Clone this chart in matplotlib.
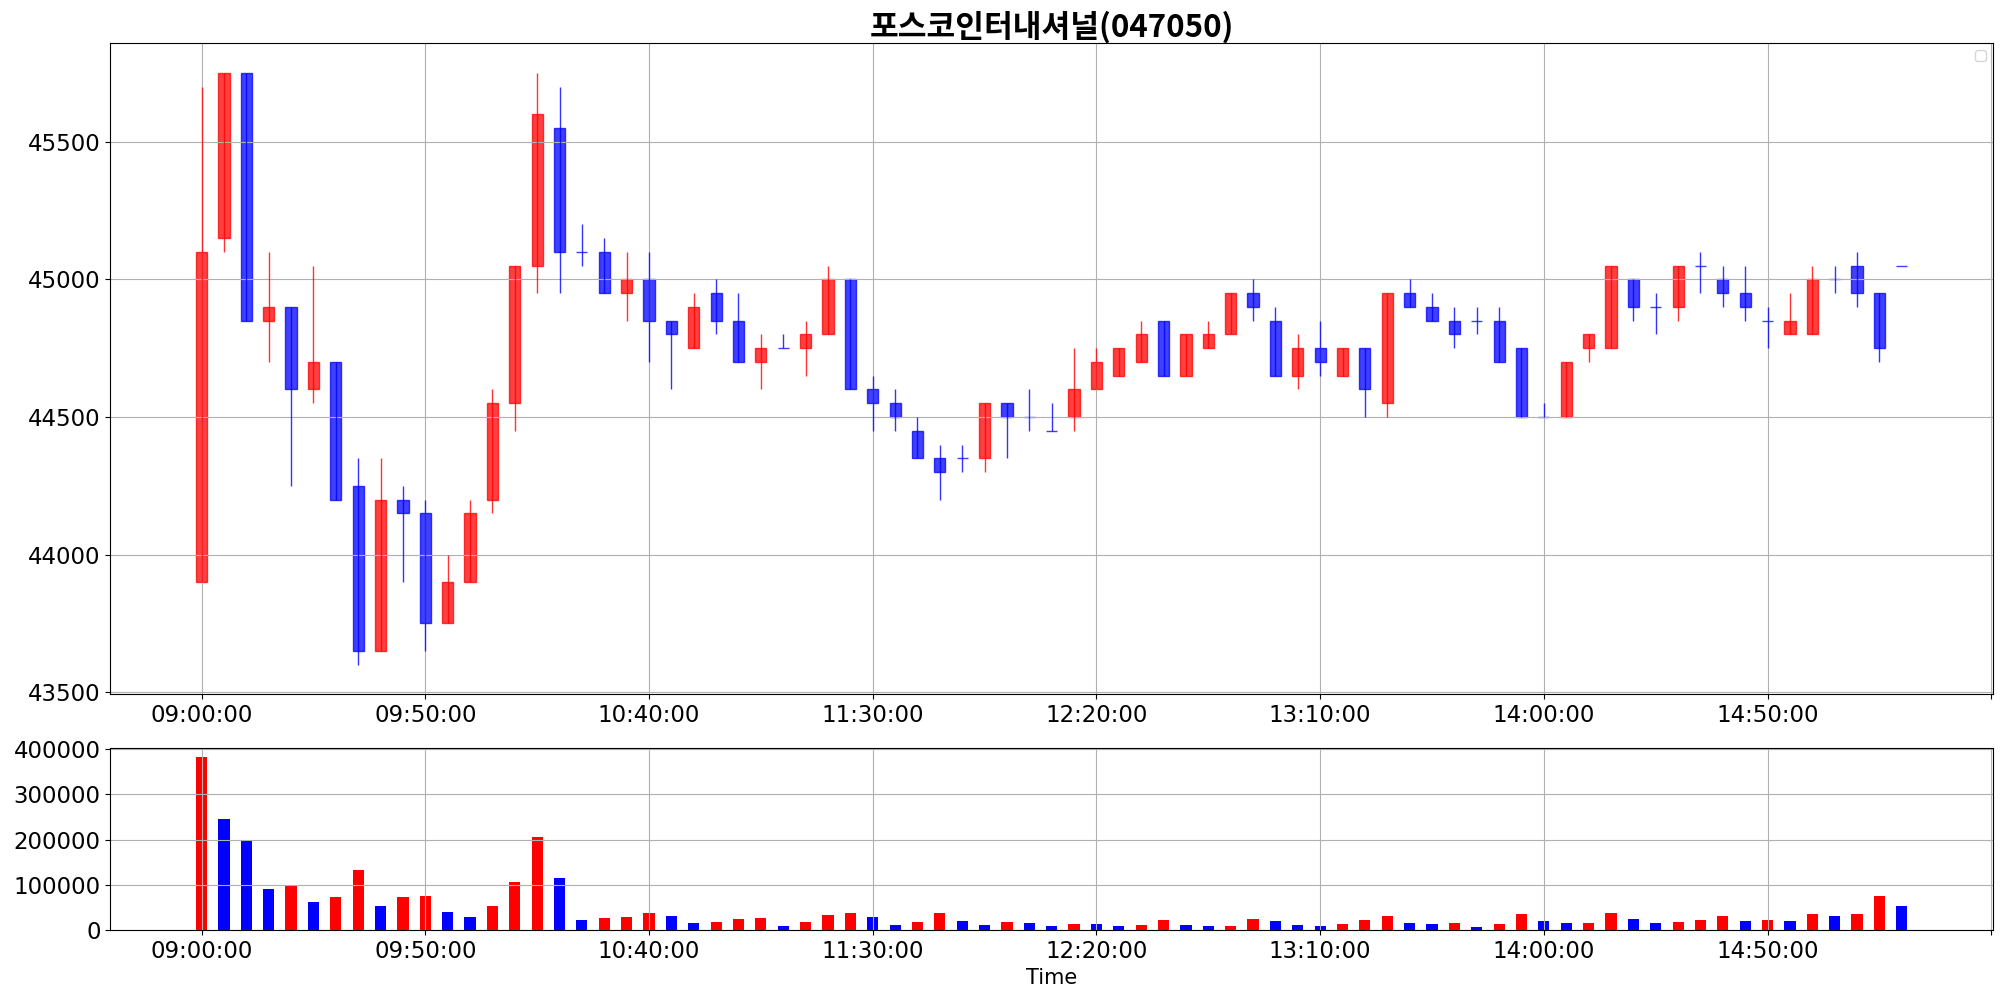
#!/usr/bin/env python3
"""
Gràfic d'espelmes de 5 minuts + volum (포스코인터내셔널, 047050).
"""

import matplotlib
matplotlib.use("Agg")
import matplotlib.pyplot as plt
from matplotlib.ticker import MultipleLocator, FuncFormatter

# ---------------------------------------------------------------------
# DADES
# ---------------------------------------------------------------------
TITLE = "포스코인터내셔널(047050)"

times = [
    "09:00:00", "09:05:00", "09:10:00", "09:15:00", "09:20:00", "09:25:00", "09:30:00", "09:35:00",
    "09:40:00", "09:45:00", "09:50:00", "09:55:00", "10:00:00", "10:05:00", "10:10:00", "10:15:00",
    "10:20:00", "10:25:00", "10:30:00", "10:35:00", "10:40:00", "10:45:00", "10:50:00", "10:55:00",
    "11:00:00", "11:05:00", "11:10:00", "11:15:00", "11:20:00", "11:25:00", "11:30:00", "11:35:00",
    "11:40:00", "11:45:00", "11:50:00", "11:55:00", "12:00:00", "12:05:00", "12:10:00", "12:15:00",
    "12:20:00", "12:25:00", "12:30:00", "12:35:00", "12:40:00", "12:45:00", "12:50:00", "12:55:00",
    "13:00:00", "13:05:00", "13:10:00", "13:15:00", "13:20:00", "13:25:00", "13:30:00", "13:35:00",
    "13:40:00", "13:45:00", "13:50:00", "13:55:00", "14:00:00", "14:05:00", "14:10:00", "14:15:00",
    "14:20:00", "14:25:00", "14:30:00", "14:35:00", "14:40:00", "14:45:00", "14:50:00", "14:55:00",
    "15:00:00", "15:05:00", "15:10:00", "15:15:00", "15:20:00",
]

opens = [
    43900, 45150, 45750, 44850, 44900, 44600, 44700, 44250, 43650, 44200,
    44150, 43750, 43900, 44200, 44550, 45050, 45550, 45100, 45100, 44950,
    45000, 44850, 44750, 44950, 44850, 44700, 44750, 44750, 44800, 45000,
    44600, 44550, 44450, 44350, 44350, 44350, 44550, 44500, 44450, 44500,
    44600, 44650, 44700, 44850, 44650, 44750, 44800, 44950, 44850, 44650,
    44750, 44650, 44750, 44550, 44950, 44900, 44850, 44850, 44850, 44750,
    44500, 44500, 44750, 44750, 45000, 44900, 44900, 45050, 45000, 44950,
    44850, 44800, 44800, 45000, 45050, 44950, 45050,
]
highs = [
    45700, 45750, 45750, 45100, 44900, 45050, 44700, 44350, 44350, 44250,
    44200, 44000, 44200, 44600, 45050, 45750, 45700, 45200, 45150, 45100,
    45100, 44850, 44950, 45000, 44950, 44800, 44800, 44850, 45050, 45000,
    44650, 44600, 44500, 44400, 44400, 44550, 44550, 44600, 44550, 44750,
    44750, 44750, 44850, 44850, 44800, 44850, 44950, 45000, 44900, 44800,
    44850, 44750, 44750, 44950, 45000, 44950, 44900, 44900, 44900, 44750,
    44550, 44700, 44800, 45050, 45000, 44950, 45050, 45100, 45050, 45050,
    44900, 44950, 45050, 45050, 45100, 44950, 45050,
]
lows = [
    43900, 45100, 44850, 44700, 44250, 44550, 44200, 43600, 43650, 43900,
    43650, 43750, 43900, 44150, 44450, 44950, 44950, 45050, 44950, 44850,
    44700, 44600, 44750, 44800, 44700, 44600, 44750, 44650, 44800, 44600,
    44450, 44450, 44350, 44200, 44300, 44300, 44350, 44450, 44450, 44450,
    44600, 44650, 44700, 44650, 44650, 44750, 44800, 44850, 44650, 44600,
    44650, 44650, 44500, 44500, 44900, 44850, 44750, 44800, 44700, 44500,
    44500, 44500, 44700, 44750, 44850, 44800, 44850, 44950, 44900, 44850,
    44750, 44800, 44800, 44950, 44900, 44700, 45050,
]
closes = [
    45100, 45750, 44850, 44900, 44600, 44700, 44200, 43650, 44200, 44150,
    43750, 43900, 44150, 44550, 45050, 45600, 45100, 45100, 44950, 45000,
    44850, 44800, 44900, 44850, 44700, 44750, 44750, 44800, 45000, 44600,
    44550, 44500, 44350, 44300, 44350, 44550, 44500, 44500, 44450, 44600,
    44700, 44750, 44800, 44650, 44800, 44800, 44950, 44900, 44650, 44750,
    44700, 44750, 44600, 44950, 44900, 44850, 44800, 44850, 44700, 44500,
    44500, 44700, 44800, 45050, 44900, 44900, 45050, 45050, 44950, 44900,
    44850, 44850, 45000, 45000, 44950, 44750, 45050,
]
volumes = [
    383000, 246000, 200000, 91000, 97000, 62000, 73000, 133000, 53000, 73000,
    75000, 40000, 29000, 53000, 106000, 206000, 115000, 22000, 26500, 29000,
    37500, 31000, 15500, 17500, 24500, 26500, 9000, 17500, 33000, 37500,
    29000, 11000, 17500, 37500, 20000, 11000, 17500, 15500, 9000, 13500,
    13000, 9000, 11000, 22000, 11000, 8500, 9000, 24500, 20000, 11000,
    9000, 13000, 22000, 31000, 15500, 13000, 15500, 6500, 13000, 35000,
    20000, 15000, 16000, 37500, 24500, 15500, 17500, 22000, 31000, 20000,
    22000, 21000, 35000, 31000, 35500, 75000, 53000,
]

# ---------------------------------------------------------------------
# CONFIGURACIÓ
# ---------------------------------------------------------------------
plt.rcParams["font.family"] = ["DejaVu Sans"]
TICK_FS = 16.5


def fmt_time(x, pos):
    i = int(round(x))
    if 0 <= i < len(times) and abs(x - i) < 1e-6:
        return times[i]
    return ""


def main():
    fig = plt.figure(figsize=(20.04, 9.98), dpi=100)
    ax1 = fig.add_axes([0.0551, 0.3043, 0.9394, 0.6523])
    ax2 = fig.add_axes([0.0551, 0.0681, 0.9394, 0.1821])

    x = list(range(len(times)))

    # Espelmes (cos amb bar, ombres amb vlines)
    col = ["red" if c > o else "blue" for o, c in zip(opens, closes)]
    bottoms = [min(o, c) for o, c in zip(opens, closes)]
    heights = [abs(c - o) for o, c in zip(opens, closes)]

    ax1.grid(True, color="#b0b0b0", linewidth=0.8)
    ax1.bar(x, heights, bottom=bottoms, width=0.5, color=col, edgecolor=col,
            linewidth=1.0, alpha=0.75)
    ax1.vlines(x, lows, highs, colors=col, linewidth=1.0, alpha=0.8)

    ax1.set_title(TITLE, fontsize=22.5, fontweight="bold",
                  family=["Noto Sans CJK KR", "DejaVu Sans"], pad=5)
    ax1.legend(loc="upper right")
    ax1.xaxis.set_major_locator(MultipleLocator(10))
    ax1.xaxis.set_major_formatter(FuncFormatter(fmt_time))
    ax1.ticklabel_format(axis="y", style="plain", useOffset=False)
    ax1.tick_params(labelsize=TICK_FS)

    # Volum: vermell si puja respecte l'anterior, blau si no
    vcol = ["red"] + ["red" if volumes[i] > volumes[i - 1] else "blue"
                      for i in range(1, len(volumes))]
    ax2.grid(True, color="#b0b0b0", linewidth=0.8)
    ax2.bar(x, volumes, width=0.5, color=vcol)
    ax2.set_xlim(ax1.get_xlim())
    ax2.xaxis.set_major_locator(MultipleLocator(10))
    ax2.xaxis.set_major_formatter(FuncFormatter(fmt_time))
    ax2.yaxis.set_major_locator(MultipleLocator(100000))
    ax2.ticklabel_format(axis="y", style="plain", useOffset=False)
    ax2.tick_params(labelsize=TICK_FS)
    ax2.set_xlabel("Time", fontsize=15)

    fig.savefig("out.png", dpi=100)
    plt.close(fig)


if __name__ == "__main__":
    main()
